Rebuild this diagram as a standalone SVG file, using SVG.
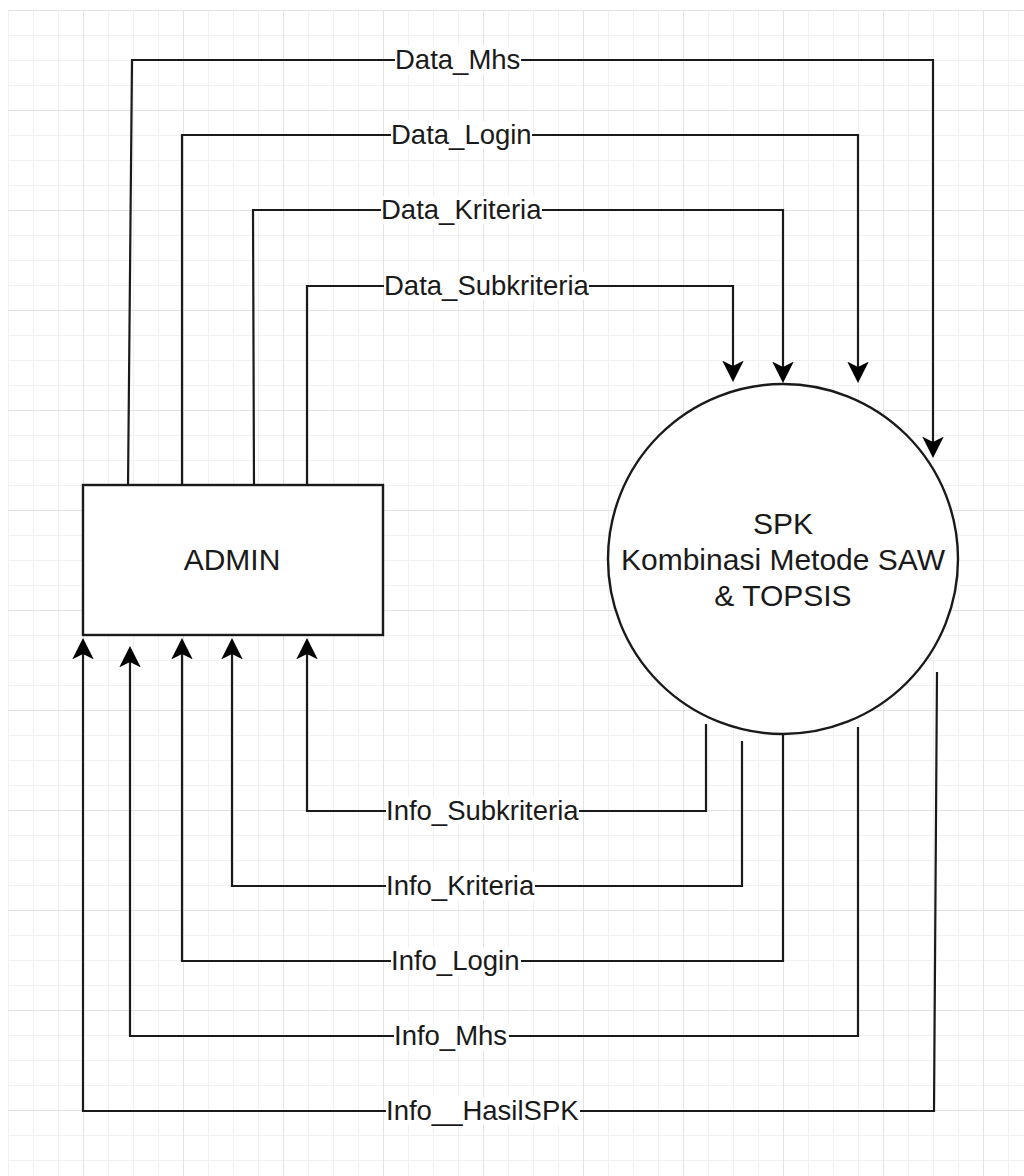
<svg xmlns="http://www.w3.org/2000/svg" width="1024" height="1176" viewBox="0 0 1024 1176">
<style>
.node{fill:#ffffff;stroke:#1a1a1a;stroke-width:2.4}
.nt{font-family:"Liberation Sans",Arial,sans-serif;font-size:30px;fill:#1a1a1a;text-anchor:middle}
.edge{fill:none;stroke:#1a1a1a;stroke-width:2.2;marker-end:url(#arr)}
.lbg{fill:#ffffff}
.lt{font-family:"Liberation Sans",Arial,sans-serif;font-size:27.5px;fill:#1a1a1a}
</style>
<defs>
<pattern id="gmin" patternUnits="userSpaceOnUse" x="8" y="10" width="25" height="25">
<path d="M0.5,0 V25 M0,0.5 H25" stroke="#f1f1f1" stroke-width="1" fill="none"/>
</pattern>
<pattern id="gmaj" patternUnits="userSpaceOnUse" x="83" y="10" width="100" height="100">
<path d="M0.5,0 V100 M0,0.5 H100" stroke="#e3e3e3" stroke-width="1" fill="none"/>
</pattern>
<marker id="arr" markerUnits="userSpaceOnUse" markerWidth="22" markerHeight="22" refX="5.4" refY="10.75" orient="auto">
<path d="M21.5,10.75 L0,0 L5.4,10.75 L0,21.5 Z" fill="#000"/>
</marker>
</defs>
<rect width="1024" height="1176" fill="#ffffff"/>
<rect x="8" y="10" width="1016" height="1166" fill="url(#gmin)"/>
<rect x="8" y="10" width="1016" height="1166" fill="url(#gmaj)"/>

<g id="connectors">
<path class="edge" d="M128,487 L132,60 L933,60 L933,442"/>
<path class="edge" d="M182,485 L182,135 L858,135 L858,367"/>
<path class="edge" d="M254,490 L253,210 L783,210 L783,367"/>
<path class="edge" d="M307,485 L307,286 L733,286 L733,366"/>
<path class="edge" d="M706,724 L706,811 L307,811 L307,654"/>
<path class="edge" d="M742,741 L742,886 L232,886 L232,654"/>
<path class="edge" d="M783,735 L783,961 L182,961 L182,654"/>
<path class="edge" d="M858,727 L858,1036 L130,1036 L130,662"/>
<path class="edge" d="M937,672 L934,1111 L83,1111 L83,654"/>
</g>

<g id="edge-labels">
<rect class="lbg" x="395" y="46" width="126" height="28"/>
<text class="lt" x="395" y="69">Data_Mhs</text>
<rect class="lbg" x="391" y="121" width="141" height="28"/>
<text class="lt" x="391" y="144">Data_Login</text>
<rect class="lbg" x="381" y="196" width="161" height="28"/>
<text class="lt" x="381" y="219">Data_Kriteria</text>
<rect class="lbg" x="384" y="272" width="205" height="28"/>
<text class="lt" x="384" y="295">Data_Subkriteria</text>
<rect class="lbg" x="386" y="797" width="193" height="28"/>
<text class="lt" x="386" y="820">Info_Subkriteria</text>
<rect class="lbg" x="386" y="872" width="149" height="28"/>
<text class="lt" x="386" y="895">Info_Kriteria</text>
<rect class="lbg" x="391" y="947" width="130" height="28"/>
<text class="lt" x="391" y="970">Info_Login</text>
<rect class="lbg" x="394" y="1022" width="115" height="28"/>
<text class="lt" x="394" y="1045">Info_Mhs</text>
<rect class="lbg" x="386" y="1097" width="194" height="28"/>
<text class="lt" x="386" y="1120">Info__HasilSPK</text>
</g>

<g id="admin">
<rect class="node" x="83" y="485" width="300" height="150"/>
<text class="nt" x="232" y="570">ADMIN</text>
</g>

<g id="spk">
<circle class="node" cx="783" cy="559" r="175" stroke-width="2.2"/>
<text class="nt" x="783" y="534">SPK</text>
<text class="nt" x="783" y="570">Kombinasi Metode SAW</text>
<text class="nt" x="783" y="606">&amp; TOPSIS</text>
</g>
</svg>
